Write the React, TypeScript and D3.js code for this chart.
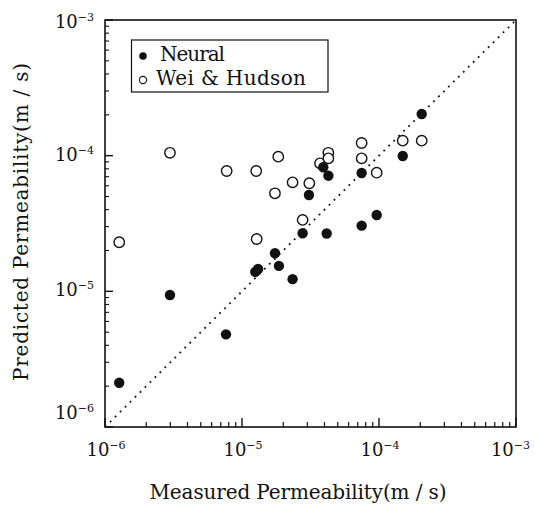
import React from "react";
import * as d3 from "d3";

// Measured (x) and predicted (y) permeabilities, m/s
const neuralX = [1.27e-6, 2.98e-6, 7.64e-6, 1.25e-5, 1.31e-5, 1.74e-5, 1.86e-5, 2.34e-5, 2.77e-5, 3.08e-5, 3.92e-5, 4.27e-5, 4.15e-5, 7.47e-5, 7.47e-5, 9.62e-5, 1.49e-4, 2.05e-4];
const neuralY = [2.12e-6, 9.4e-6, 4.82e-6, 1.39e-5, 1.46e-5, 1.91e-5, 1.54e-5, 1.23e-5, 2.68e-5, 5.13e-5, 8.21e-5, 7.12e-5, 2.67e-5, 7.45e-5, 3.05e-5, 3.65e-5, 9.94e-5, 2.03e-4];

const weiX = [1.27e-6, 2.98e-6, 7.73e-6, 1.27e-5, 1.28e-5, 1.84e-5, 1.74e-5, 2.34e-5, 2.77e-5, 3.1e-5, 3.71e-5, 4.27e-5, 4.27e-5, 7.47e-5, 7.47e-5, 9.62e-5, 1.49e-4, 2.05e-4];
const weiY = [2.3e-5, 1.05e-4, 7.71e-5, 7.71e-5, 2.43e-5, 9.83e-5, 5.28e-5, 6.36e-5, 3.36e-5, 6.26e-5, 8.78e-5, 1.05e-4, 9.56e-5, 1.24e-4, 9.56e-5, 7.49e-5, 1.29e-4, 1.29e-4];

const decadeExponents = [-6, -5, -4, -3];
const minorMultipliers = [2, 3, 4, 5, 6, 7, 8, 9];
const legendLabels = ["Neural", "Wei & Hudson"];
const xTitle = "Measured Permeability(m / s)";
const yTitle = "Predicted Permeability(m / s)";

const W = 535;
const H = 510;
const L = 105, R = 516, T = 20, B = 427;
const FONT = "DejaVu Serif";

export default function App() {
  const x = d3.scaleLog().domain([1e-6, 1e-3]).range([L, R]);
  const y = d3.scaleLog().domain([1e-6, 1e-3]).range([B, T]);

  const majors = decadeExponents.map((e) => Math.pow(10, e));
  const minors: number[] = [];
  decadeExponents.slice(0, -1).forEach((e) => {
    minorMultipliers.forEach((m) => minors.push(m * Math.pow(10, e)));
  });

  const supLabel = (e: number) => (
    <>
      <tspan>10</tspan>
      <tspan dy={-7} style={{ fontSize: 11 }}>{"\u2212" + Math.abs(e)}</tspan>
    </>
  );

  const yLabelShift = (i: number) =>
    i === 0 ? -8 : i === decadeExponents.length - 1 ? 8 : 5;

  const ts = { fontFamily: FONT, fontSize: 20 } as React.CSSProperties;
  const tick = { fontFamily: FONT, fontSize: 18 } as React.CSSProperties;
  const last = decadeExponents.length - 1;

  return (
    <svg
      width={W}
      height={H}
      style={{ position: "absolute", left: 0, top: 0, background: "#fff" }}
    >
      <rect x={0} y={0} width={W} height={H} fill="#fff" />

      {/* diagonal 1:1 line */}
      <line
        x1={x(1e-6)}
        y1={y(1e-6)}
        x2={x(1e-3)}
        y2={y(1e-3)}
        stroke="#111"
        strokeWidth={1.8}
        strokeDasharray="1.8 5.2"
      />

      {/* bottom ticks */}
      {minors.map((v, i) => (
        <line key={"bx" + i} x1={x(v)} x2={x(v)} y1={B} y2={B - 5} stroke="#111" strokeWidth={1.2} />
      ))}
      {majors.map((v, i) => (
        <line key={"bX" + i} x1={x(v)} x2={x(v)} y1={B} y2={B - 9} stroke="#111" strokeWidth={1.4} />
      ))}
      {/* left ticks */}
      {minors.map((v, i) => (
        <line key={"ly" + i} x1={L} x2={L + 4} y1={y(v)} y2={y(v)} stroke="#111" strokeWidth={1.1} />
      ))}
      {majors.map((v, i) => (
        <line key={"lY" + i} x1={L} x2={L + 8} y1={y(v)} y2={y(v)} stroke="#111" strokeWidth={1.4} />
      ))}

      {/* frame */}
      <rect x={L} y={T} width={R - L} height={B - T} fill="none" stroke="#111" strokeWidth={1.6} />

      {/* x tick labels */}
      {decadeExponents.map((e, i) => (
        <text
          key={"xt" + i}
          x={i === last ? 530 : x(majors[i]) + 1}
          y={456}
          style={tick}
          textAnchor={i === last ? "end" : "middle"}
          fill="#111"
        >
          {supLabel(e)}
        </text>
      ))}
      {/* y tick labels */}
      {decadeExponents.map((e, i) => (
        <text key={"yt" + i} x={94} y={y(majors[i]) + yLabelShift(i)} style={tick} textAnchor="end" fill="#111">
          {supLabel(e)}
        </text>
      ))}

      {/* axis titles */}
      <text x={298} y={499} style={ts} textAnchor="middle" fill="#111" textLength={297} lengthAdjust="spacing">
        {xTitle}
      </text>
      <text
        transform={`translate(28,222) rotate(-90)`}
        style={ts}
        textAnchor="middle"
        fill="#111"
        textLength={318}
        lengthAdjust="spacing"
      >
        {yTitle}
      </text>

      {/* data */}
      {weiX.map((v, i) => (
        <circle key={"w" + i} cx={x(v)} cy={y(weiY[i])} r={5.2} fill="#fff" stroke="#111" strokeWidth={1.4} />
      ))}
      {neuralX.map((v, i) => (
        <circle key={"n" + i} cx={x(v)} cy={y(neuralY[i])} r={5.2} fill="#111" />
      ))}

      {/* legend */}
      <rect x={131.5} y={40} width={196.5} height={52} fill="#fff" stroke="#111" strokeWidth={1.2} />
      <circle cx={143} cy={56} r={3.8} fill="#111" />
      <circle cx={143} cy={80} r={3.6} fill="#fff" stroke="#111" strokeWidth={1.1} />
      <text x={160} y={61} style={ts} fill="#111" textLength={65} lengthAdjust="spacing">
        {legendLabels[0]}
      </text>
      <text x={156} y={85} style={ts} fill="#111" textLength={150} lengthAdjust="spacing">
        {legendLabels[1]}
      </text>
    </svg>
  );
}
